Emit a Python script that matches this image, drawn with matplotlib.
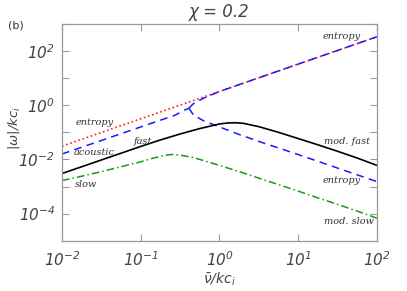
import numpy as np
import matplotlib
matplotlib.use("Agg")
import matplotlib.pyplot as plt
from matplotlib.ticker import FixedLocator, NullLocator, NullFormatter

# ---- data (log10 nu, log10 |omega|) ----
red_lognu = [-2.0, -1.0, 0.0, 1.0, 2.0]
red_logw = [-1.51, -0.50, 0.51, 1.52, 2.53]

blue_left_lognu = [-2.0, -1.5, -1.0, -0.75, -0.565, -0.44, -0.387]
blue_left_logw = [-1.80, -1.30, -0.80, -0.55, -0.37, -0.17, -0.11]

blue_up_lognu = [-0.387, -0.343, -0.28, -0.20, 0.0, 1.0, 2.0]
blue_up_logw = [-0.11, 0.03, 0.15, 0.26, 0.51, 1.52, 2.53]

blue_down_lognu = [-0.387, -0.35, -0.317, -0.19, 0.0, 0.25, 0.514, 1.0, 1.5, 2.0]
blue_down_logw = [-0.11, -0.28, -0.39, -0.59, -0.80, -1.08, -1.35, -1.82, -2.32, -2.82]

black_lognu = [-2.0, -1.5, -1.0, -0.75, -0.5, -0.25, 0.0, 0.1, 0.2, 0.3, 0.5, 0.75,
               1.0, 1.25, 1.5, 1.75, 2.0]
black_logw = [-2.52, -2.02, -1.52, -1.28, -1.06, -0.86, -0.69, -0.655, -0.645, -0.665, -0.79, -1.00,
              -1.23, -1.46, -1.70, -1.95, -2.22]

green_lognu = [-2.0, -1.75, -1.5, -1.25, -1.0, -0.85, -0.7, -0.6, -0.5, -0.35, -0.25, 0.0,
               0.25, 0.5, 0.75, 1.0, 1.25, 1.5, 1.75, 2.0]
green_logw = [-2.78, -2.62, -2.45, -2.27, -2.09, -1.96, -1.85, -1.815, -1.84, -1.92, -2.00, -2.22,
              -2.45, -2.69, -2.93, -3.17, -3.42, -3.66, -3.91, -4.17]

labels = ["entropy", "fast", "acoustic", "slow", "entropy", "mod. fast", "entropy", "mod. slow"]
label_lognu = [-1.58, -0.98, -1.59, -1.69, 1.55, 1.62, 1.55, 1.64]
label_logw = [-0.63, -1.32, -1.75, -2.93, 2.54, -1.32, -2.76, -4.29]

title = "χ = 0.2"
xlabel = r"$\bar{\nu}/kc_{\rm i}$"
ylabel = r"$|\omega|/kc_{\rm i}$"

x_ticks = [-2, -1, 0, 1, 2]
y_ticks_major = [-4, -2, 0, 2]
y_ticks_all = [-5, -4, -3, -2, -1, 0, 1, 2, 3]


def p(v):
    return 10.0 ** np.asarray(v)


plt.rcParams["mathtext.fontset"] = "custom"
plt.rcParams["mathtext.rm"] = "DejaVu Sans:italic"
plt.rcParams["mathtext.it"] = "DejaVu Sans:italic"
plt.rcParams["mathtext.bf"] = "DejaVu Sans:italic:bold"

fig = plt.figure(figsize=(4.07, 2.91), dpi=100)
ax = fig.add_axes([0.1523, 0.1729, 0.774, 0.7446])
ax.set_xscale("log")
ax.set_yscale("log")
ax.set_xlim(1e-2, 1e2)
ax.set_ylim(1e-5, 1e3)

ax.plot(p(red_lognu), p(red_logw), color="#ff2020", lw=1.2, linestyle=(0, (1, 1.6)))
ax.plot(p(blue_left_lognu), p(blue_left_logw), color="#1a1aff", lw=1.1, linestyle=(0, (5, 3.5)))
ax.plot(p(blue_up_lognu), p(blue_up_logw), color="#1a1aff", lw=1.1, linestyle=(0, (5, 3.5)))
ax.plot(p(blue_down_lognu), p(blue_down_logw), color="#1a1aff", lw=1.1, linestyle=(0, (5, 3.5)))
ax.plot(p(black_lognu), p(black_logw), color="black", lw=1.2)
ax.plot(p(green_lognu), p(green_logw), color="#10a010", lw=1.1, linestyle=(0, (5, 2, 1, 2)))

for t, lx, ly in zip(labels, label_lognu, label_logw):
    ax.text(10 ** lx, 10 ** ly, t, family="DejaVu Serif", style="italic", fontsize=7,
            color="#333333", ha="center", va="center")

spine_col = "#999999"
for s in ax.spines.values():
    s.set_color(spine_col)
    s.set_linewidth(0.9)

ax.xaxis.set_major_locator(FixedLocator(p(x_ticks)))
ax.xaxis.set_minor_locator(NullLocator())
ax.set_xticklabels([r"$10^{%d}$" % v for v in x_ticks])
ax.yaxis.set_major_locator(FixedLocator(p(y_ticks_major)))
ax.yaxis.set_minor_locator(FixedLocator(p(y_ticks_all)))
ax.yaxis.set_minor_formatter(NullFormatter())
ax.set_yticklabels([r"$10^{%d}$" % v for v in y_ticks_major])
ax.tick_params(which="both", direction="in", top=True, right=True, color=spine_col,
               length=5, width=0.8, labelsize=11, labelcolor="#444444")
ax.tick_params(axis="x", pad=7)
ax.tick_params(axis="y", pad=5)

ax.set_xlabel(xlabel, fontsize=10, color="#444444", labelpad=1)
ax.set_ylabel(ylabel, fontsize=9.5, color="#444444")
ax.yaxis.set_label_coords(-0.128, 0.52)
ax.set_title(title, fontsize=12, style="italic", color="#444444", pad=5)
fig.text(15.7 / 407, 1 - 26 / 291, "(b)", fontsize=8, color="#333333", ha="center", va="center",
         family="DejaVu Sans")

fig.savefig("out.png", dpi=100)
